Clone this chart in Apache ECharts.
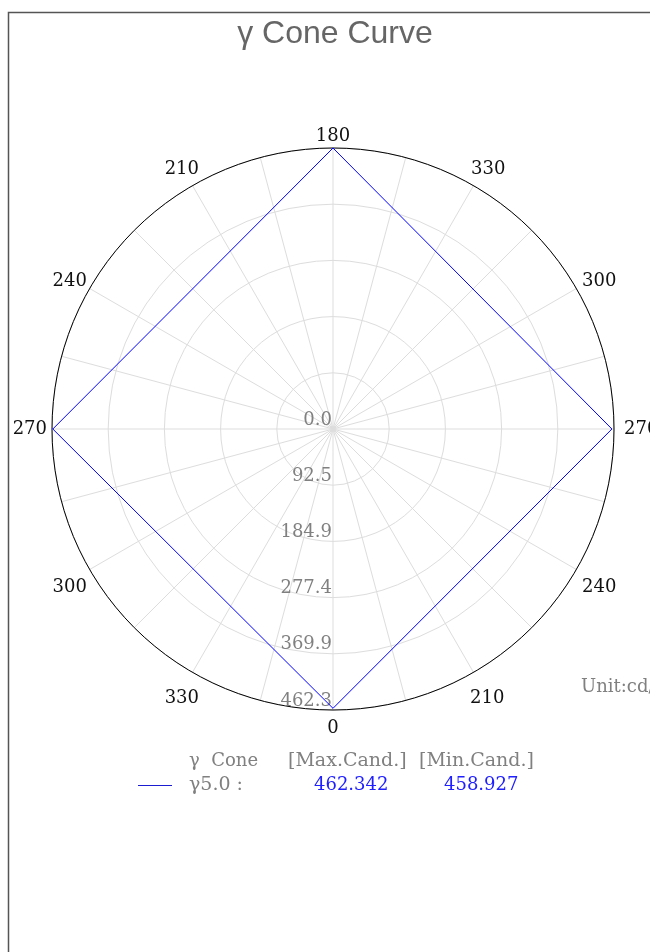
<!DOCTYPE html>
<html>
<head>
    <meta charset="UTF-8">
    <title>γ Cone Curve</title>
    <script type="text/javascript" src="https://cdn.jsdelivr.net/npm/echarts@6/dist/echarts.min.js"></script>
</head>
<body style="margin: 0;padding: 0;">
    <div id="container" style="width:650px; height:952px;"></div>
    <script>
        // angle labels, going round from the bottom (0) every 30 degrees, left side first
        var angleLabels = ['0', '330', '300', '270', '240', '210', '180', '330', '300', '270', '240', '210'];
        // curve points: angle position and radius
        var curveAngles = [0, 90, 180, 270, 360];
        var curveValues = [459.6, 461.0, 462.342, 458.927, 459.6];
        var radiusMax = 462.342;
        var radiusSteps = 5;

        var legendHead = ['γ  Cone', '[Max.Cand.]', '[Min.Cand.]'];
        var legendName = 'γ5.0 :';

        var maxVal = Math.max.apply(null, curveValues);
        var minVal = Math.min.apply(null, curveValues);

        var chart = echarts.init(document.getElementById('container'), null, { renderer: 'canvas' });

        var serif = '"DejaVu Serif", "Liberation Serif", serif';

        // nudges so the angle labels sit where the original puts them
        var labelPads = [
            [22, 0, 0, 0],   // bottom
            [28, 0, 0, 0],   // bottom-left
            [15, 14, 0, 0],
            [0, 18, 0, 0],   // left
            [0, 14, 5, 0],
            [0, 0, 19, 0],   // top-left
            [0, 0, 16, 0],   // top
            [0, 0, 19, 4],   // top-right
            [0, 0, 5, 17],
            [0, 0, 0, 23],   // right
            [15, 0, 0, 17],
            [28, 0, 0, 3]    // bottom-right
        ];
        var angleRich = {};
        labelPads.forEach(function (p, i) {
            angleRich['p' + i] = { fontFamily: serif, fontSize: 18, color: '#111', padding: p };
        });

        var option = {
            animation: false,
            backgroundColor: '#fff',
            title: {
                text: 'γ Cone Curve',
                left: 330,
                textAlign: 'center',
                top: 13,
                textStyle: {
                    fontFamily: '"Liberation Sans", Arial, sans-serif',
                    fontSize: 32,
                    fontWeight: 'normal',
                    color: '#666'
                }
            },
            polar: {
                center: [333, 429],
                radius: 281
            },
            angleAxis: {
                type: 'value',
                min: 0,
                max: 360,
                interval: 15,
                startAngle: 270,
                clockwise: true,
                axisLine: { lineStyle: { color: '#000', width: 1 } },
                axisTick: { show: false },
                axisLabel: {
                    margin: -13,
                    fontFamily: serif,
                    fontSize: 18,
                    color: '#111',
                    formatter: function (v) {
                        if (v % 30 !== 0 || v >= 360) return '';
                        var i = v / 30;
                        return '{p' + i + '|' + angleLabels[i] + '}';
                    },
                    rich: angleRich
                },
                splitLine: { lineStyle: { color: '#ddd', width: 1 } }
            },
            radiusAxis: {
                type: 'value',
                min: 0,
                max: radiusMax,
                interval: radiusMax / radiusSteps,
                axisLine: { show: false },
                axisTick: { show: false },
                axisLabel: {
                    fontFamily: serif,
                    fontSize: 18,
                    color: '#808080',
                    align: 'right',
                    verticalAlign: 'bottom',
                    margin: -1,
                    formatter: function (v) { return v.toFixed(1); }
                },
                splitLine: { lineStyle: { color: '#ddd', width: 1 } }
            },
            series: [{
                type: 'line',
                coordinateSystem: 'polar',
                symbol: 'none',
                lineStyle: { color: '#0000ff', width: 1 },
                data: curveAngles.map(function (a, i) { return [curveValues[i], a]; })
            }],
            graphic: [
                {
                    type: 'rect',
                    shape: { x: 8.5, y: 12.5, width: 800, height: 1000 },
                    style: { fill: null, stroke: '#555', lineWidth: 1.5 },
                    silent: true
                },
                {
                    type: 'text', x: 189, y: 761,
                    style: { text: legendHead[0], font: '18px ' + serif, fill: '#808080', verticalAlign: 'middle' }
                },
                {
                    type: 'text', x: 288, y: 761,
                    style: { text: legendHead[1], font: '19px ' + serif, fill: '#808080', verticalAlign: 'middle' }
                },
                {
                    type: 'text', x: 419, y: 761,
                    style: { text: legendHead[2], font: '19px ' + serif, fill: '#808080', verticalAlign: 'middle' }
                },
                {
                    type: 'line',
                    shape: { x1: 138, y1: 785.5, x2: 172, y2: 785.5 },
                    style: { stroke: '#1c1cd0', lineWidth: 1 }
                },
                {
                    type: 'text', x: 189, y: 785,
                    style: { text: legendName, font: '19px ' + serif, fill: '#808080', verticalAlign: 'middle' }
                },
                {
                    type: 'text', x: 314, y: 785,
                    style: { text: maxVal.toFixed(3), font: '18px ' + serif, fill: '#2020ff', verticalAlign: 'middle' }
                },
                {
                    type: 'text', x: 444, y: 785,
                    style: { text: minVal.toFixed(3), font: '18px ' + serif, fill: '#2020ff', verticalAlign: 'middle' }
                },
                {
                    type: 'text', x: 581, y: 687,
                    style: { text: 'Unit:cd/m²', font: '18px ' + serif, fill: '#808080', verticalAlign: 'middle' }
                }
            ]
        };
        chart.setOption(option);
    </script>
</body>
</html>
